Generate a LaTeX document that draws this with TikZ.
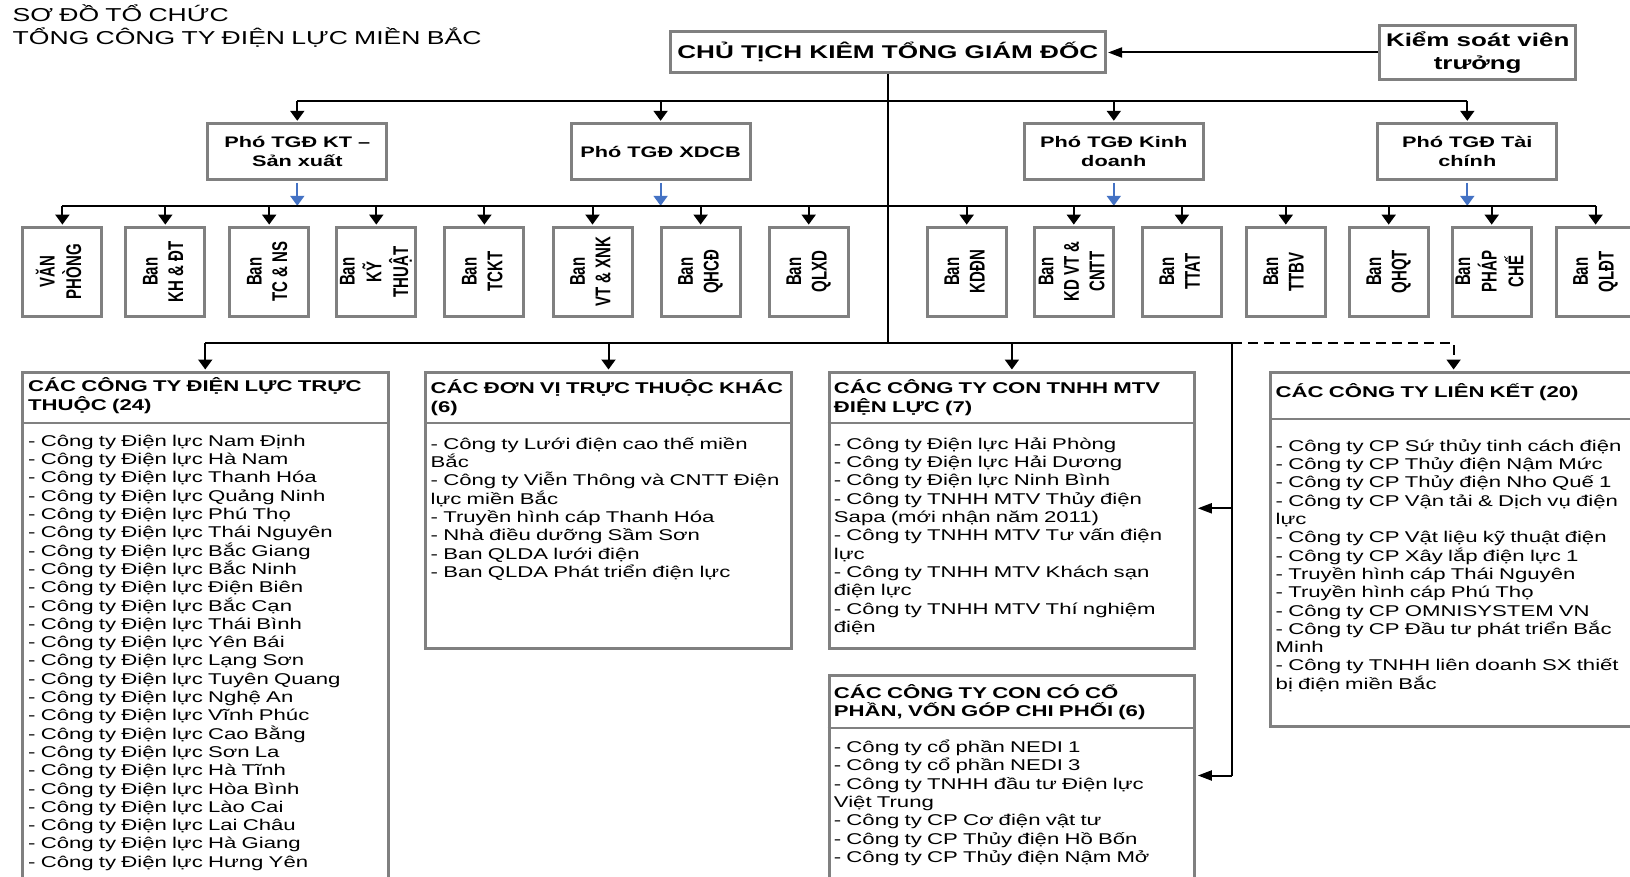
\documentclass[tikz,border=0pt]{standalone}
\usepackage{fontspec}
\usepackage{graphicx}
\setmainfont[FakeStretch=1.42]{Liberation Sans}
\newfontfamily\rotfont{Liberation Sans}
\usetikzlibrary{arrows.meta}
\definecolor{boxgray}{RGB}{128,128,128}
\definecolor{depblue}{RGB}{68,114,196}
\newcommand\vlab[1]{\rotatebox{90}{\scalebox{1}[1.42]{\rotfont\bfseries\fontsize{15}{18}\selectfont\begin{tabular}{@{}c@{}}#1\end{tabular}}}}
\tikzset{
  conn/.style={line width=2pt, draw=black},
  arr/.style={conn, -{Triangle[length=10pt,width=14pt]}},
  arrh/.style={conn, -{Triangle[length=14pt,width=10pt]}},
  bluearr/.style={line width=2pt, draw=depblue, -{Triangle[length=10pt,width=14pt]}},
  dasharr/.style={arr, dash pattern=on 10pt off 6pt},
  topbox/.style={draw=boxgray, line width=3pt, fill=white, inner sep=0pt, align=center},
  ceobox/.style={topbox, minimum width=434.5pt, minimum height=41.6pt, font=\fontsize{18.4}{22.9}\selectfont\bfseries},
  ksvbox/.style={topbox, minimum width=196.5pt, minimum height=54pt, font=\fontsize{18.3}{22.9}\selectfont\bfseries},
  depbox/.style={topbox, minimum width=179pt, minimum height=56pt, font=\fontsize{15.3}{18.7}\selectfont\bfseries},
  deptbox/.style={topbox, minimum width=79pt, minimum height=88.4pt},
  bigbox/.style={draw=boxgray, line width=3pt, fill=white, inner sep=0pt, anchor=north west},
  divider/.style={draw=boxgray, line width=2pt},
  titletext/.style={anchor=base west, inner sep=0pt, text width=700pt, align=left, font=\fontsize{18.7}{22.8}\selectfont},
  hdr/.style={anchor=base west, inner sep=0pt, text width=400pt, align=left, font=\fontsize{15.6}{18.7}\selectfont\bfseries},
  lst/.style={anchor=base west, inner sep=0pt, text width=400pt, align=left, font=\fontsize{15.6}{18.3}\selectfont}
}
\begin{document}
\begin{tikzpicture}[x=1pt,y=-1pt]
\useasboundingbox (0,0) rectangle (1630,877);
\fill[white] (0,0) rectangle (1630,877);
\clip (0,0) rectangle (1630,877);

% title
\node[titletext] (title) at (12.5,21.8) {SƠ ĐỒ TỔ CHỨC\\TỔNG CÔNG TY ĐIỆN LỰC MIỀN BẮC};

% top level
\node[ceobox] (ceo) at (887.8,52) {CHỦ TỊCH KIÊM TỔNG GIÁM ĐỐC};
\node[ksvbox] (ksv) at (1477.7,52.5) {Kiểm soát viên\\trưởng};
\draw[arrh] (ksv.west) -- ([xshift=1.5pt]ksv.west -| ceo.east);

% deputies
\node[depbox] (d1) at (297.3,151.8) {Phó TGĐ KT --\\Sản xuất};
\node[depbox] (d2) at (660.6,151.8) {Phó TGĐ XDCB};
\node[depbox] (d3) at (1113.8,151.8) {Phó TGĐ Kinh\\doanh};
\node[depbox] (d4) at (1467.3,151.8) {Phó TGĐ Tài\\chính};

\coordinate (tbus) at (0,100.8);
\coordinate (dbus) at (0,205.8);
\coordinate (lbus) at (0,343);

\draw[conn] (ceo.south) -- (ceo.south |- lbus);
\draw[conn] (d1.north |- tbus) -- (d4.north |- tbus);
\foreach \d in {d1,d2,d3,d4}{
  \draw[arr] (\d.north |- tbus) -- ([yshift=1.5pt]\d.north);
  \draw[bluearr] ([yshift=-1.5pt]\d.south) -- (\d.south |- dbus);
}

% departments
\node[deptbox] (p1) at (62.4,271.8) {\vlab{VĂN\\PHÒNG}};
\node[deptbox] (p2) at (165.3,271.8) {\vlab{Ban\\KH \& ĐT}};
\node[deptbox] (p3) at (269.2,271.8) {\vlab{Ban\\TC \& NS}};
\node[deptbox] (p4) at (376.3,271.8) {\vlab{Ban\\KỸ\\THUẬT}};
\node[deptbox] (p5) at (484.4,271.8) {\vlab{Ban\\TCKT}};
\node[deptbox] (p6) at (592.5,271.8) {\vlab{Ban\\VT \& XNK}};
\node[deptbox] (p7) at (700.6,271.8) {\vlab{Ban\\QHCĐ}};
\node[deptbox] (p8) at (808.7,271.8) {\vlab{Ban\\QLXD}};
\node[deptbox] (p9) at (966.7,271.8) {\vlab{Ban\\KDĐN}};
\node[deptbox] (p10) at (1073.8,271.8) {\vlab{Ban\\KD VT \&\\CNTT}};
\node[deptbox] (p11) at (1181.9,271.8) {\vlab{Ban\\TTAT}};
\node[deptbox] (p12) at (1285.8,271.8) {\vlab{Ban\\TTBV}};
\node[deptbox] (p13) at (1388.7,271.8) {\vlab{Ban\\QHQT}};
\node[deptbox] (p14) at (1491.7,271.8) {\vlab{Ban\\PHÁP\\CHẾ}};
\node[deptbox] (p15) at (1595.6,271.8) {\vlab{Ban\\QLĐT}};

\draw[conn] (p1.north |- dbus) -- (p15.north |- dbus);
\foreach \p in {p1,p2,p3,p4,p5,p6,p7,p8,p9,p10,p11,p12,p13,p14,p15}{
  \draw[arr] (\p.north |- dbus) -- ([yshift=1.5pt]\p.north);
}

% lower boxes
\node[bigbox, minimum width=365.9pt, minimum height=529pt] (b1) at (20.8,371) {};
\node[bigbox, minimum width=366pt, minimum height=275.6pt] (b2) at (424,371) {};
\node[bigbox, minimum width=365.8pt, minimum height=275.6pt] (b3) at (827.5,371) {};
\node[bigbox, minimum width=365.8pt, minimum height=226.4pt] (b4) at (827.5,673.6) {};
\node[bigbox, minimum width=365.8pt, minimum height=353.5pt] (b5) at (1269.2,371) {};

\draw[divider] ([yshift=-52pt]b1.north west) -- ([yshift=-52pt]b1.north east);
\draw[divider] ([yshift=-52pt]b2.north west) -- ([yshift=-52pt]b2.north east);
\draw[divider] ([yshift=-52pt]b3.north west) -- ([yshift=-52pt]b3.north east);
\draw[divider] ([yshift=-54pt]b4.north west) -- ([yshift=-54pt]b4.north east);
\draw[divider] ([yshift=-48pt]b5.north west) -- ([yshift=-48pt]b5.north east);

% connectors to lower boxes
\coordinate (rc) at (1231.8,343);
\path (b3.north east) ++(0,137.3) coordinate (a3);
\path (b4.north east) ++(0,101.9) coordinate (a4);
\draw[conn] (b1.north |- lbus) -- (rc);
\draw[arr] (b1.north |- lbus) -- ([yshift=1.5pt]b1.north);
\draw[arr] (b2.north |- lbus) -- ([yshift=1.5pt]b2.north);
\draw[arr] (b3.north |- lbus) -- ([yshift=1.5pt]b3.north);
\draw[conn] (rc) -- (rc |- a4);
\draw[arrh] (rc |- a3) -- ([xshift=1.5pt]a3);
\draw[arrh] (rc |- a4) -- ([xshift=1.5pt]a4);
\draw[dasharr] (rc) -- (rc -| b5.north) -- ([yshift=1.5pt]b5.north);

% headers
\node[hdr] (h1) at (28,391.5) {CÁC CÔNG TY ĐIỆN LỰC TRỰC\\THUỘC (24)};
\node[hdr] (h2) at (430.5,393.5) {CÁC ĐƠN VỊ TRỰC THUỘC KHÁC\\(6)};
\node[hdr] (h3) at (833.7,393.5) {CÁC CÔNG TY CON TNHH MTV\\ĐIỆN LỰC (7)};
\node[hdr] (h4) at (833.7,698) {CÁC CÔNG TY CON CÓ CỔ\\PHẦN, VỐN GÓP CHI PHỐI (6)};
\node[hdr] (h5) at (1275.5,397.5) {CÁC CÔNG TY LIÊN KẾT (20)};

% lists
\node[lst] (l1) at (28,446.3) {- Công ty Điện lực Nam Định\\
- Công ty Điện lực Hà Nam\\
- Công ty Điện lực Thanh Hóa\\
- Công ty Điện lực Quảng Ninh\\
- Công ty Điện lực Phú Thọ\\
- Công ty Điện lực Thái Nguyên\\
- Công ty Điện lực Bắc Giang\\
- Công ty Điện lực Bắc Ninh\\
- Công ty Điện lực Điện Biên\\
- Công ty Điện lực Bắc Cạn\\
- Công ty Điện lực Thái Bình\\
- Công ty Điện lực Yên Bái\\
- Công ty Điện lực Lạng Sơn\\
- Công ty Điện lực Tuyên Quang\\
- Công ty Điện lực Nghệ An\\
- Công ty Điện lực Vĩnh Phúc\\
- Công ty Điện lực Cao Bằng\\
- Công ty Điện lực Sơn La\\
- Công ty Điện lực Hà Tĩnh\\
- Công ty Điện lực Hòa Bình\\
- Công ty Điện lực Lào Cai\\
- Công ty Điện lực Lai Châu\\
- Công ty Điện lực Hà Giang\\
- Công ty Điện lực Hưng Yên};

\node[lst] (l2) at (430.5,449.3) {- Công ty Lưới điện cao thế miền\\
Bắc\\
- Công ty Viễn Thông và CNTT Điện\\
lực miền Bắc\\
- Truyền hình cáp Thanh Hóa\\
- Nhà điều dưỡng Sầm Sơn\\
- Ban QLDA lưới điện\\
- Ban QLDA Phát triển điện lực};

\node[lst] (l3) at (833.7,449.3) {- Công ty Điện lực Hải Phòng\\
- Công ty Điện lực Hải Dương\\
- Công ty Điện lực Ninh Bình\\
- Công ty TNHH MTV Thủy điện\\
Sapa (mới nhận năm 2011)\\
- Công ty TNHH MTV Tư vấn điện\\
lực\\
- Công ty TNHH MTV Khách sạn\\
điện lực\\
- Công ty TNHH MTV Thí nghiệm\\
điện};

\node[lst] (l4) at (833.7,752.6) {- Công ty cổ phần NEDI 1\\
- Công ty cổ phần NEDI 3\\
- Công ty TNHH đầu tư Điện lực\\
Việt Trung\\
- Công ty CP Cơ điện vật tư\\
- Công ty CP Thủy điện Hồ Bốn\\
- Công ty CP Thủy điện Nậm Mở};

\node[lst] (l5) at (1275.5,451.3) {- Công ty CP Sứ thủy tinh cách điện\\
- Công ty CP Thủy điện Nậm Mức\\
- Công ty CP Thủy điện Nho Quế 1\\
- Công ty CP Vận tải \& Dịch vụ điện\\
lực\\
- Công ty CP Vật liệu kỹ thuật điện\\
- Công ty CP Xây lắp điện lực 1\\
- Truyền hình cáp Thái Nguyên\\
- Truyền hình cáp Phú Thọ\\
- Công ty CP OMNISYSTEM VN\\
- Công ty CP Đầu tư phát triển Bắc\\
Minh\\
- Công ty TNHH liên doanh SX thiết\\
bị điện miền Bắc};
\end{tikzpicture}
\end{document}
